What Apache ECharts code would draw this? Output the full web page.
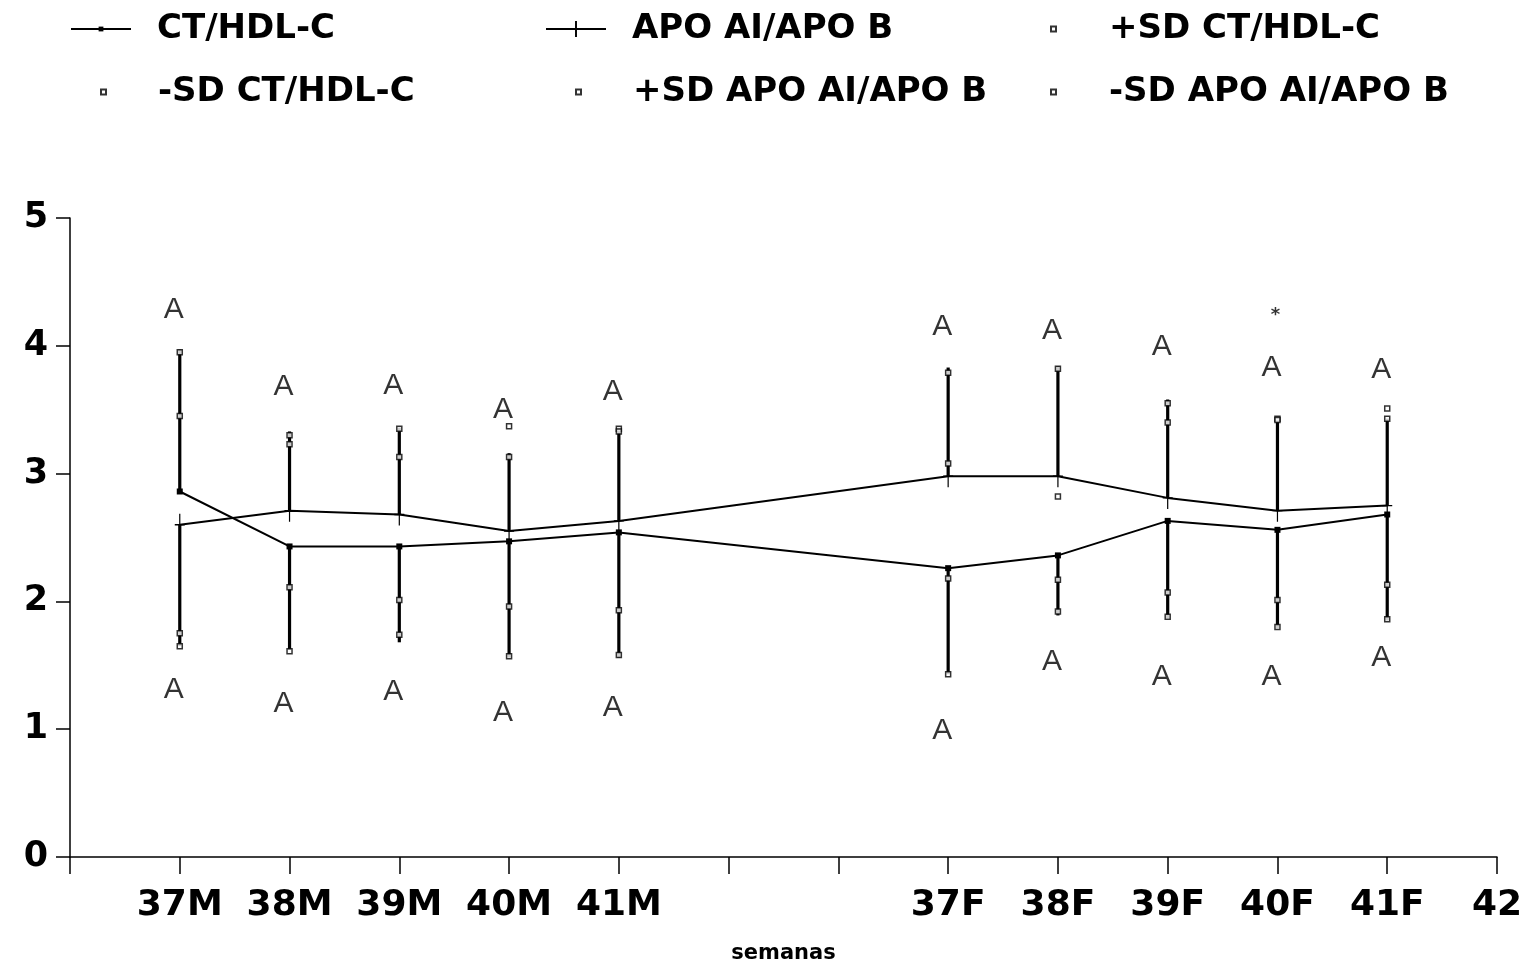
<!DOCTYPE html>
<html>
<head>
<meta charset="utf-8">
<script src="https://cdn.jsdelivr.net/npm/echarts@6/dist/echarts.min.js"></script>
<style>
html,body{margin:0;padding:0;background:#fff;}
#chart{width:1532px;height:965px;}
</style>
</head>
<body>
<div id="chart"></div>
<script>
// ---- data ----
const tickLabels = ['', '37M', '38M', '39M', '40M', '41M', '', '', '37F', '38F', '39F', '40F', '41F', '42'];
const xPos = [1, 2, 3, 4, 5, 8, 9, 10, 11, 12];
const ctHdl = [2.86, 2.43, 2.43, 2.47, 2.54, 2.26, 2.36, 2.63, 2.56, 2.68];
const apoRatio = [2.60, 2.71, 2.68, 2.55, 2.63, 2.98, 2.98, 2.81, 2.71, 2.75];
const plusSdCt = [3.95, 3.30, 3.35, 3.13, 3.35, 3.79, 3.82, 3.55, 3.43, 3.51];
const plusSdApo = [3.45, 3.23, 3.13, 3.37, 3.33, 3.08, 2.82, 3.40, 3.42, 3.43];
const minusSdCt = [1.75, 2.11, 2.01, 1.96, 1.93, 2.18, 2.17, 2.07, 2.01, 2.13];
const minusSdApo = [1.65, 1.61, 1.74, 1.57, 1.58, 1.43, 1.92, 1.88, 1.80, 1.86];
const barTop = [3.97, 3.33, 3.36, 3.16, 3.36, 3.83, 3.84, 3.58, 3.43, 3.43];
const barBottom = [1.65, 1.62, 1.68, 1.56, 1.56, 1.43, 1.89, 1.87, 1.79, 1.85];
const aTop = [4.28, 3.68, 3.69, 3.50, 3.64, 4.15, 4.12, 3.99, 3.83, 3.81];
const aBottom = [1.31, 1.20, 1.29, 1.13, 1.17, 0.99, 1.53, 1.41, 1.41, 1.56];
const starMarks = [[11, 4.26]];

const names = ['CT/HDL-C', 'APO AI/APO B', '+SD CT/HDL-C', '-SD CT/HDL-C', '+SD APO AI/APO B', '-SD APO AI/APO B'];

const pair = (arr) => xPos.map((x, i) => [x, arr[i]]);
const barData = xPos.map((x, i) => [
  x,
  Math.max(ctHdl[i], apoRatio[i]), barTop[i],
  Math.min(ctHdl[i], apoRatio[i]), barBottom[i]
]);

const FONT = 'DejaVu Sans';
const legendText = {fontFamily: FONT, fontWeight: 'bold', fontSize: 34, color: '#000', lineHeight: 36};
function mkLegend(name, left, top, w, h, pad) {
  return {
    data: [name], left: left, top: top, orient: 'horizontal', selectedMode: false,
    itemWidth: w, itemHeight: h,
    textStyle: Object.assign({}, legendText, {padding: [0, 0, 0, pad]})
  };
}

const sdStyle = {
  type: 'scatter', symbol: 'rect', symbolSize: 5,
  itemStyle: {color: '#fff', borderColor: '#000', borderWidth: 1.5},
  z: 5
};

const chart = echarts.init(document.getElementById('chart'), null, {renderer: 'canvas'});
chart.setOption({
  animation: false,
  backgroundColor: '#fff',
  legend: [
    mkLegend(names[0], 65, 6, 60, 6, 21),
    mkLegend(names[1], 540, 6, 60, 20, 21),
    mkLegend(names[2], 1045, 6, 5, 5, 48),
    mkLegend(names[3], 95, 69, 5, 5, 47),
    mkLegend(names[4], 570, 69, 5, 5, 47),
    mkLegend(names[5], 1045, 69, 5, 5, 48)
  ],
  grid: {left: 70, right: 35, top: 218, bottom: 108, containLabel: false, outerBoundsMode: 'none'},
  xAxis: {
    type: 'value', min: 0, max: 13, interval: 1,
    name: 'semanas', nameLocation: 'middle', nameGap: 86,
    nameTextStyle: {fontFamily: FONT, fontWeight: 'bold', fontSize: 21, color: '#000'},
    axisLine: {lineStyle: {color: '#000', width: 1.5}},
    axisTick: {length: 17, lineStyle: {color: '#000', width: 1.5}},
    axisLabel: {
      margin: 31, color: '#000', fontFamily: FONT, fontWeight: 'bold', fontSize: 36,
      formatter: (v) => tickLabels[Math.round(v)] || ''
    },
    splitLine: {show: false}
  },
  yAxis: {
    type: 'value', min: 0, max: 5, interval: 1,
    axisLine: {show: true, lineStyle: {color: '#000', width: 1.5}},
    axisTick: {show: true, length: 14, lineStyle: {color: '#000', width: 1.5}},
    axisLabel: {margin: 22, color: '#000', fontFamily: FONT, fontWeight: 'bold', fontSize: 35},
    splitLine: {show: false}
  },
  series: [
    {
      type: 'custom', name: 'bars', data: barData, z: 3,
      encode: {x: 0, y: [1, 2, 3, 4]},
      renderItem: function (params, api) {
        const x = api.value(0);
        const p1 = api.coord([x, api.value(1)]);
        const p2 = api.coord([x, api.value(2)]);
        const p3 = api.coord([x, api.value(3)]);
        const p4 = api.coord([x, api.value(4)]);
        const st = {stroke: '#000', lineWidth: 3.2};
        return {type: 'group', children: [
          {type: 'line', shape: {x1: p1[0], y1: p1[1], x2: p2[0], y2: p2[1]}, style: st},
          {type: 'line', shape: {x1: p3[0], y1: p3[1], x2: p4[0], y2: p4[1]}, style: st}
        ]};
      }
    },
    {
      type: 'line', name: names[0], data: pair(ctHdl), z: 4,
      symbol: 'rect', symbolSize: 6,
      lineStyle: {color: '#000', width: 2}, itemStyle: {color: '#000'}
    },
    {
      type: 'line', name: names[1], data: pair(apoRatio), z: 4,
      symbol: 'path://M4.4,0h1.2v20h-1.2zM0,9.4h10v1.2h-10z', symbolSize: [10, 22],
      lineStyle: {color: '#000', width: 2}, itemStyle: {color: '#000'}
    },
    Object.assign({name: names[2], data: pair(plusSdCt)}, sdStyle),
    Object.assign({name: names[3], data: pair(minusSdCt)}, sdStyle),
    Object.assign({name: names[4], data: pair(plusSdApo)}, sdStyle),
    Object.assign({name: names[5], data: pair(minusSdApo)}, sdStyle),
    {
      type: 'scatter', name: 'A', symbolSize: 0,
      data: pair(aTop).concat(pair(aBottom)),
      label: {show: true, position: 'inside', formatter: 'A', offset: [-6, 0],
        fontFamily: 'Liberation Sans', fontSize: 30, fontWeight: 'normal', color: '#000'}
    },
    {
      type: 'scatter', name: 'star', symbolSize: 0, data: starMarks,
      label: {show: true, position: 'inside', formatter: '*', offset: [-2, 3],
        fontFamily: FONT, fontSize: 18, fontWeight: 'bold', color: '#000'}
    }
  ]
});
</script>
</body>
</html>
